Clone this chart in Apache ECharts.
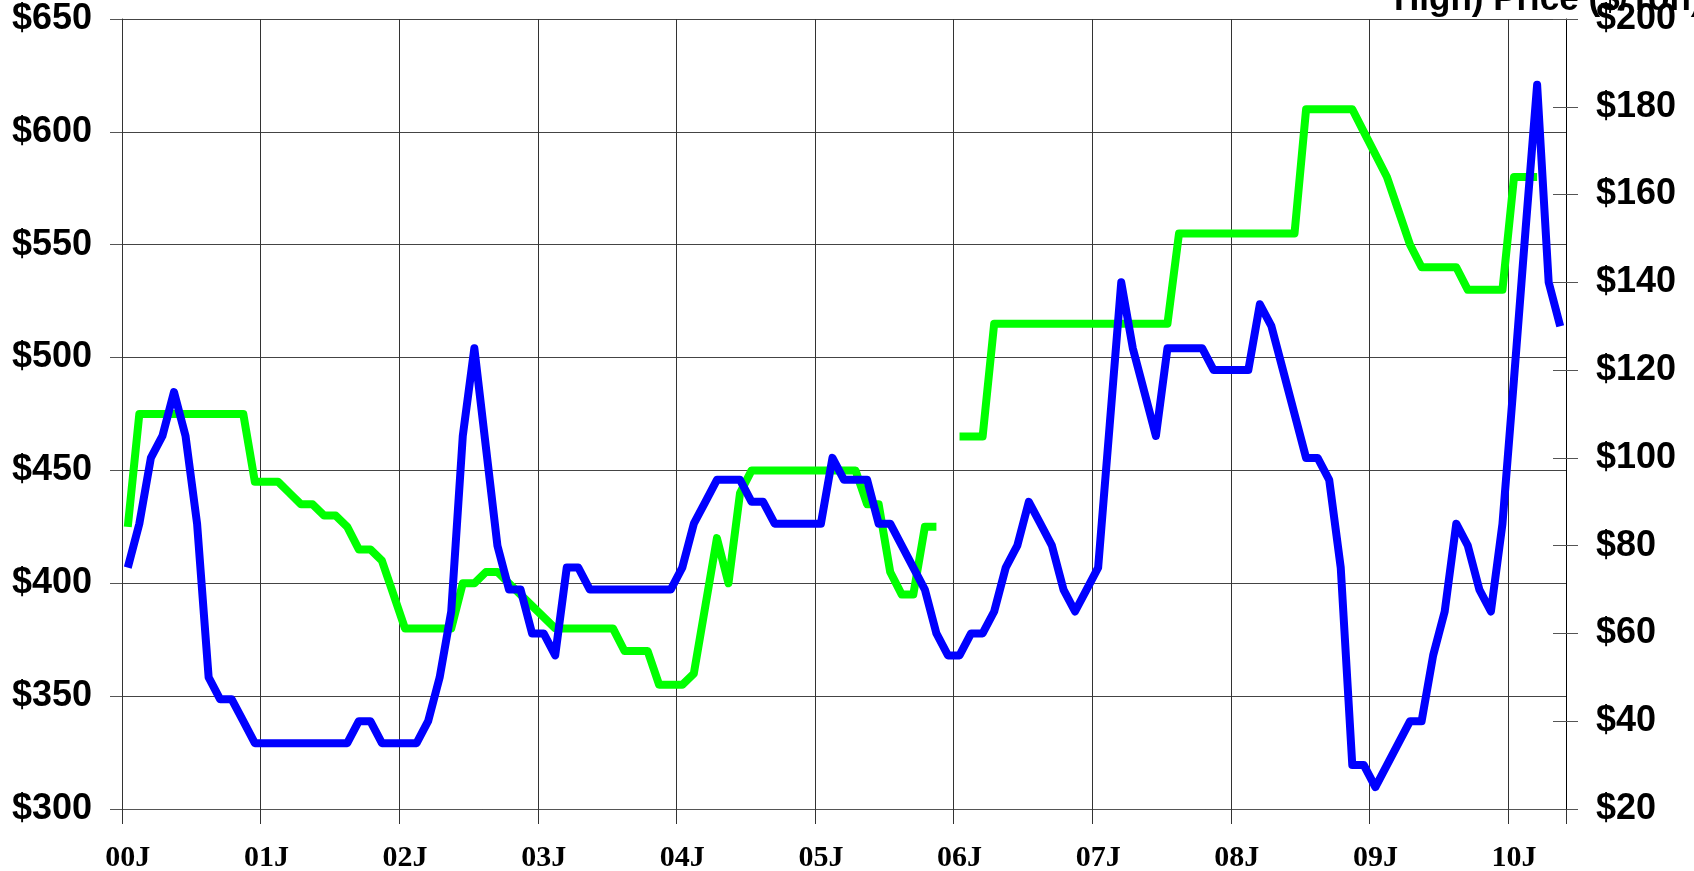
<!DOCTYPE html>
<html>
<head>
<meta charset="utf-8">
<title>Price history 2000-2010</title>
<script src="https://cdn.jsdelivr.net/npm/echarts@6/dist/echarts.min.js"></script>
<style>
  html, body { margin: 0; padding: 0; background: #ffffff; }
  #chart { width: 1694px; height: 871px; }
</style>
</head>
<body>
<div id="chart"></div>
<script>
// Monthly series, January 2000 through May 2010
const startYear = 2000;
const monthCount = 125;
const monthLetters = ['J', 'F', 'M', 'A', 'M', 'J', 'J', 'A', 'S', 'O', 'N', 'D'];

// Left axis tick range ($)
const leftTicks = { min: 300, max: 650, step: 50 };
// Right axis tick range ($/ton)
const rightTicks = { min: 20, max: 200, step: 20 };

// Green line, left axis ($); null = no quote that month
const greenPrice = [
  425, 475, 475, 475, 475, 475, 475, 475, 475, 475,
  475, 445, 445, 445, 440, 435, 435, 430, 430, 425,
  415, 415, 410, 395, 380, 380, 380, 380, 380, 400,
  400, 405, 405, 400, 395, 390, 385, 380, 380, 380,
  380, 380, 380, 370, 370, 370, 355, 355, 355, 360,
  390, 420, 400, 440, 450, 450, 450, 450, 450, 450,
  450, 450, 450, 450, 435, 435, 405, 395, 395, 425,
  425, null, 465, 465, 465, 515, 515, 515, 515, 515,
  515, 515, 515, 515, 515, 515, 515, 515, 515, 515,
  515, 555, 555, 555, 555, 555, 555, 555, 555, 555,
  555, 555, 610, 610, 610, 610, 610, 600, 590, 580,
  565, 550, 540, 540, 540, 540, 530, 530, 530, 530,
  580, 580, 580, null, null
];

// Blue line, right axis ($/ton)
const blueSpot = [
  75, 85, 100, 105, 115, 105, 85, 50, 45, 45,
  40, 35, 35, 35, 35, 35, 35, 35, 35, 35,
  40, 40, 35, 35, 35, 35, 40, 50, 65, 105,
  125, 102.5, 80, 70, 70, 60, 60, 55, 75, 75,
  70, 70, 70, 70, 70, 70, 70, 70, 75, 85,
  90, 95, 95, 95, 90, 90, 85, 85, 85, 85,
  85, 100, 95, 95, 95, 85, 85, 80, 75, 70,
  60, 55, 55, 60, 60, 65, 75, 80, 90, 85,
  80, 70, 65, 70, 75, 107.5, 140, 125, 115, 105,
  125, 125, 125, 125, 120, 120, 120, 120, 135, 130,
  120, 110, 100, 100, 95, 75, 30, 30, 25, 30,
  35, 40, 40, 55, 65, 85, 80, 70, 65, 85,
  118, 152, 185, 140, 130
];

const rightTitle = 'High) Price ($/Ton)';

// Category keys "YYYY-MM"
const months = [];
for (let k = 0; k < monthCount; k++) {
  const y = startYear + Math.floor(k / 12);
  const m = (k % 12) + 1;
  months.push(y + '-' + String(m).padStart(2, '0'));
}
// "2003-01" -> "03J"
function monthLabel(v) {
  return v.slice(2, 4) + monthLetters[parseInt(v.slice(5, 7), 10) - 1];
}

const sansBold = { fontFamily: 'Liberation Sans, Arial, sans-serif', fontWeight: 'bold', fontSize: 36, color: '#000' };

const chart = echarts.init(document.getElementById('chart'), null, { renderer: 'canvas' });
chart.setOption({
  backgroundColor: '#ffffff',
  animation: false,
  grid: { left: 122, right: 128, top: 19, bottom: 62, containLabel: false, outerBoundsMode: 'none' },
  xAxis: {
    type: 'category',
    data: months,
    boundaryGap: true,
    axisLine: { show: true, lineStyle: { color: '#555', width: 1 } },
    axisTick: { show: true, interval: 11, length: 15, lineStyle: { color: '#333', width: 1 } },
    axisLabel: {
      interval: 11, margin: 34, formatter: monthLabel,
      fontFamily: 'Liberation Serif, Times New Roman, serif', fontWeight: 'bold', fontSize: 30, color: '#000'
    },
    splitLine: { show: true, interval: 11, lineStyle: { color: '#333', width: 1 } }
  },
  yAxis: [
    {
      type: 'value', position: 'left',
      min: leftTicks.min, max: leftTicks.max, interval: leftTicks.step,
      axisLine: { show: true, lineStyle: { color: '#333' } },
      axisTick: { show: true, length: 12, lineStyle: { color: '#555' } },
      axisLabel: Object.assign({ margin: 30, formatter: '${value}' }, sansBold),
      splitLine: { show: true, lineStyle: { color: '#444', width: 1 } }
    },
    {
      type: 'value', position: 'right',
      min: rightTicks.min, max: rightTicks.max, interval: rightTicks.step,
      axisLine: { show: true, lineStyle: { color: '#000' } },
      axisTick: { show: true, length: 12, lineStyle: { color: '#555' } },
      axisLabel: Object.assign({ margin: 30, formatter: '${value}' }, sansBold),
      splitLine: { show: false }
    },
    {
      // inner half of the right-hand tick marks
      type: 'value', position: 'right',
      min: rightTicks.min, max: rightTicks.max, interval: rightTicks.step,
      axisLine: { show: false },
      axisTick: { show: true, inside: true, length: 13, lineStyle: { color: '#555' } },
      axisLabel: { show: false },
      splitLine: { show: false }
    }
  ],
  series: [
    {
      name: 'Price', type: 'line', yAxisIndex: 0, data: greenPrice,
      symbol: 'none', connectNulls: false, z: 2,
      lineStyle: { color: '#00ff00', width: 8, join: 'round', cap: 'butt' }
    },
    {
      name: 'Spot', type: 'line', yAxisIndex: 1, data: blueSpot,
      symbol: 'none', z: 3,
      lineStyle: { color: '#0000ff', width: 8, join: 'round', cap: 'butt' }
    }
  ],
  graphic: [
    {
      type: 'text', left: 1394, top: -17, silent: true,
      style: {
        text: rightTitle,
        fontFamily: 'Liberation Sans, Arial, sans-serif', fontWeight: 'bold', fontSize: 35,
        fill: '#000'
      }
    }
  ]
});
</script>
</body>
</html>
